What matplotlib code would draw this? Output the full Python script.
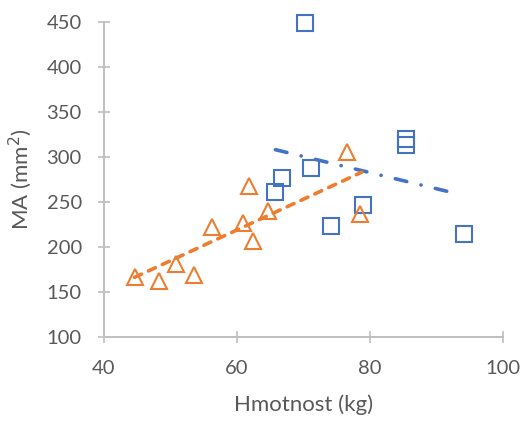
import matplotlib
matplotlib.use("Agg")
import matplotlib.pyplot as plt

plt.rcParams['font.family'] = ['Lato', 'DejaVu Sans']
plt.rcParams['lines.scale_dashes'] = False

# Series A (blue squares)
blue_x = [70.2, 66.8, 65.8, 71.2, 74.1, 79.0, 85.4, 85.4, 94.2]
blue_y = [449, 277, 261, 288, 223, 247, 320, 313, 214]

# Series B (orange triangles)
orange_x = [44.6, 48.3, 50.8, 53.5, 56.2, 61.8, 60.9, 62.4, 64.7, 76.6, 78.5]
orange_y = [166, 162, 181, 169, 222, 268, 226, 206, 240, 305, 236]

# Trend line end points
blue_trend_x = [65.8, 93.7]
blue_trend_y = [308, 258]
orange_trend_x = [44.6, 78.8]
orange_trend_y = [166, 283]

x_ticks = [40, 60, 80, 100]
y_ticks = [100, 150, 200, 250, 300, 350, 400, 450]

BLUE = '#4472C4'
ORANGE = '#ED7D31'
GRID = '#BFBFBF'
TEXT = '#595959'

fig = plt.figure(figsize=(5.25, 4.26), dpi=100)
ax = fig.add_axes([104 / 525, 1 - 336.7 / 426, 398.7 / 525, 314.7 / 426])

ax.plot(blue_x, blue_y, linestyle='none', marker='s', markersize=11.5,
        markerfacecolor='none', markeredgecolor=BLUE, markeredgewidth=1.5,
        clip_on=False, zorder=3)
ax.plot(orange_x, orange_y, linestyle='none', marker='^', markersize=12,
        markerfacecolor='none', markeredgecolor=ORANGE, markeredgewidth=1.5,
        clip_on=False, zorder=3)

bl, = ax.plot(blue_trend_x, blue_trend_y, color=BLUE, linewidth=2.6,
              dash_capstyle='round', zorder=4)
bl.set_dashes((8.5, 10.5, 0.1, 10.5))
ol, = ax.plot(orange_trend_x, orange_trend_y, color=ORANGE, linewidth=2.6,
              dash_capstyle='round', zorder=4)
ol.set_dashes((5.5, 5.5))

ax.set_xlim(40, 100)
ax.set_ylim(100, 450)
ax.set_xticks(x_ticks)
ax.set_yticks(y_ticks)

for side in ('top', 'right'):
    ax.spines[side].set_visible(False)
for side in ('left', 'bottom'):
    ax.spines[side].set_color(GRID)
    ax.spines[side].set_linewidth(1.4)

ax.tick_params(axis='both', direction='inout', length=9, width=1.2,
               color=GRID, labelcolor=TEXT, labelsize=14.5)
ax.tick_params(axis='x', pad=12.5)
ax.tick_params(axis='y', pad=11.5)

ax.set_xlabel('Hmotnost (kg)', fontsize=16, color=TEXT, labelpad=12)
ax.set_ylabel('MA (mm$^2$)', fontsize=16, color=TEXT, labelpad=9)

fig.savefig('out.png', dpi=100)
